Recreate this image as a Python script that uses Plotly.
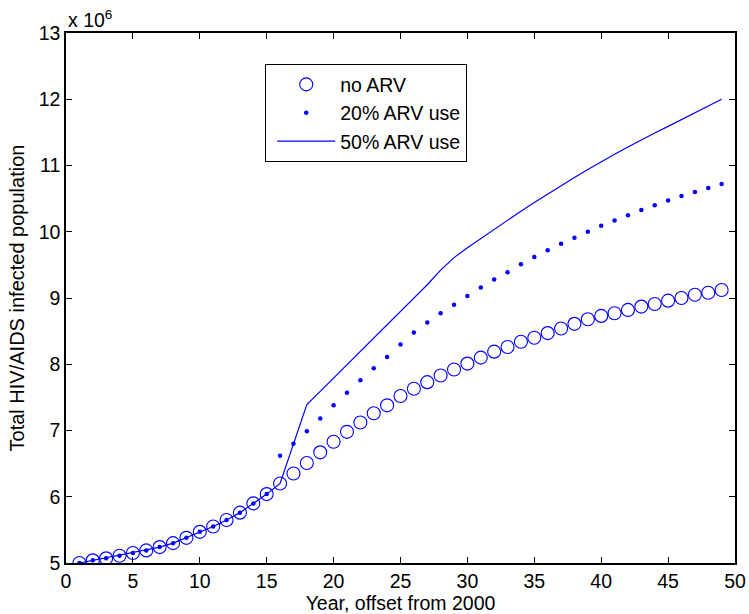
import plotly.graph_objects as go

# Simulation years (offset from 2000)
years = list(range(1, 50))

# Total infected population, in millions
no_arv = [5.00, 5.04, 5.07, 5.11, 5.15, 5.19, 5.24, 5.30, 5.38, 5.47,
          5.55, 5.65, 5.76, 5.90, 6.04, 6.20, 6.35, 6.51, 6.67, 6.83,
          6.98, 7.12, 7.26, 7.38, 7.52, 7.63, 7.73, 7.83, 7.92, 8.01,
          8.10, 8.19, 8.26, 8.34, 8.40, 8.47, 8.54, 8.61, 8.68, 8.73,
          8.77, 8.82, 8.87, 8.91, 8.96, 9.00, 9.05, 9.08, 9.12]

arv_20 = [5.00, 5.04, 5.07, 5.11, 5.15, 5.19, 5.24, 5.30, 5.38, 5.47,
          5.55, 5.65, 5.76, 5.90, 6.04, 6.62, 6.80, 6.99, 7.18, 7.38,
          7.57, 7.76, 7.94, 8.11, 8.30, 8.48, 8.63, 8.77, 8.90, 9.03,
          9.16, 9.28, 9.39, 9.51, 9.62, 9.72, 9.82, 9.91, 10.00, 10.09,
          10.17, 10.25, 10.33, 10.40, 10.47, 10.54, 10.60, 10.66, 10.72]

arv_50 = [5.00, 5.04, 5.07, 5.11, 5.15, 5.19, 5.24, 5.30, 5.38, 5.47,
          5.55, 5.65, 5.76, 5.90, 6.04, 6.20, 6.79, 7.39, 7.59, 7.79,
          7.99, 8.19, 8.39, 8.59, 8.79, 8.99, 9.20, 9.42, 9.61, 9.76,
          9.90, 10.04, 10.18, 10.31, 10.44, 10.57, 10.70, 10.82, 10.94, 11.06,
          11.17, 11.28, 11.39, 11.49, 11.59, 11.69, 11.79, 11.89, 12.00]

series_names = ["no ARV", "20% ARV use", "50% ARV use"]

x_ticks = list(range(0, 51, 5))
y_ticks = list(range(5, 14))

BLUE = "#0000ff"
FONT = "Liberation Sans, Arial, Helvetica, sans-serif"
SIZE = 19.5

fig = go.Figure()
fig.add_trace(go.Scatter(
    x=years, y=no_arv, name=series_names[0], mode="markers",
    marker=dict(symbol="circle-open", size=13, color=BLUE, line=dict(width=1.1, color=BLUE)),
))
fig.add_trace(go.Scatter(
    x=years, y=arv_20, name=series_names[1], mode="markers",
    marker=dict(symbol="circle", size=4.5, color=BLUE),
))
fig.add_trace(go.Scatter(
    x=years, y=arv_50, name=series_names[2], mode="lines",
    line=dict(color=BLUE, width=1.2),
))

axis_common = dict(
    showline=True, linecolor="black", linewidth=1.5, mirror="ticks",
    ticks="inside", ticklen=6, tickcolor="black", tickwidth=1,
    showgrid=False, zeroline=False, automargin=False,
    tickfont=dict(family=FONT, size=SIZE, color="black"),
)

fig.update_layout(
    width=749, height=614,
    margin=dict(l=66, r=14, t=33, b=51),
    paper_bgcolor="white", plot_bgcolor="white",
    font=dict(family=FONT, size=SIZE, color="black"),
    xaxis=dict(range=[0, 50], tickvals=x_ticks,
               title=dict(text="Year, offset from 2000", standoff=5,
                          font=dict(family=FONT, size=SIZE)),
               **axis_common),
    yaxis=dict(range=[5, 13], tickvals=y_ticks,
               title=dict(text="Total HIV/AIDS infected population", standoff=9,
                          font=dict(family=FONT, size=20)),
               **axis_common),
    legend=dict(
        x=0.2975, y=0.9415, xanchor="left", yanchor="top",
        bordercolor="black", borderwidth=1.2, bgcolor="white",
        font=dict(family=FONT, size=SIZE, color="black"),
        itemwidth=58, indentation=6, tracegroupgap=0,
    ),
    showlegend=True,
    annotations=[dict(
        x=0, y=1, xref="paper", yref="paper", xanchor="left", yanchor="bottom",
        text="x 10<sup>6</sup>", showarrow=False,
        font=dict(family=FONT, size=SIZE, color="black"),
    )],
)

fig.write_html("out.html")
